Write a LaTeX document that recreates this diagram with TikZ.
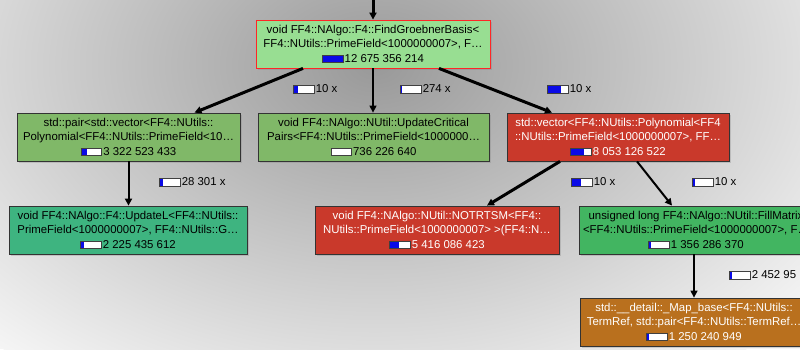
\documentclass[tikz,border=0pt]{standalone}
\usepackage{fontspec}
\setmainfont{Liberation Sans}
\usetikzlibrary{arrows.meta,shadows,calc}
\definecolor{topgreen}{RGB}{152,222,146}
\definecolor{midgreen}{RGB}{128,184,104}
\definecolor{hotred}{RGB}{201,57,43}
\definecolor{tealgreen}{RGB}{62,180,128}
\definecolor{fmgreen}{RGB}{66,181,97}
\definecolor{mapbrown}{RGB}{185,112,30}
\definecolor{barblue}{RGB}{10,10,230}
\newcommand{\pbar}[1]{{\setlength{\fboxsep}{0pt}\setlength{\fboxrule}{0.7pt}\raisebox{0.2pt}{\fcolorbox{black!75}{white}{\textcolor{barblue}{\rule{#1pt}{6.5pt}}\hspace{\dimexpr20pt-#1pt\relax}}}}\hspace{1.2pt}}
\begin{document}
\begin{tikzpicture}[x=1pt,y=-1pt,
  fnode/.style={draw=black!80, line width=0.8pt, minimum height=48pt, inner sep=0pt,
    align=center, font=\fontsize{11.4}{14.5}\selectfont,
    drop shadow={shadow xshift=1.5pt,shadow yshift=-1.5pt,opacity=0.3}},
  elabel/.style={anchor=west, inner sep=0pt, font=\fontsize{11.4}{14.5}\selectfont},
  conn/.style={draw=black, -{Triangle[length=7pt,width=7pt]}},
  ethick/.style={conn, line width=3pt},
  emid/.style={conn, line width=2pt},
  ethin/.style={conn, line width=1.4pt}]
\useasboundingbox (0,0) rectangle (800,349);
\begin{scope}
\clip (0,0) rectangle (800,349);
\fill[white!96!black] (0,0) rectangle (800,349);
\shade[inner color=black!40, outer color=white!96!black] (375,65) ellipse (560 and 380);

\node[fnode, draw=red!85, fill=topgreen, minimum width=234pt] (top) at (373,44)
  {void FF4::NAlgo::F4::FindGroebnerBasis<\\FF4::NUtils::PrimeField<1000000007>, F…\\\pbar{20}12 675 356 214};
\node[fnode, fill=midgreen, minimum width=223pt] (l1) at (128.5,137)
  {std::pair<std::vector<FF4::NUtils::\\Polynomial<FF4::NUtils::PrimeField<10…\\\pbar{5.2}3 322 523 433};
\node[fnode, fill=midgreen, minimum width=231pt] (mid) at (373.5,137)
  {void FF4::NAlgo::NUtil::UpdateCritical\\Pairs<FF4::NUtils::PrimeField<1000000…\\\pbar{1.2}736 226 640};
\node[fnode, fill=hotred, text=white, minimum width=222pt] (rt) at (618,137)
  {std::vector<FF4::NUtils::Polynomial<FF4\\::NUtils::PrimeField<1000000007>, FF…\\\pbar{12.8}8 053 126 522};
\node[fnode, fill=tealgreen, minimum width=238pt] (ul) at (128,230)
  {void FF4::NAlgo::F4::UpdateL<FF4::NUtils::\\PrimeField<1000000007>, FF4::NUtils::G…\\\pbar{3.5}2 225 435 612};
\node[fnode, fill=hotred, text=white, minimum width=244pt] (nt) at (437,230)
  {void FF4::NAlgo::NUtil::NOTRTSM<FF4::\\NUtils::PrimeField<1000000007> >(FF4::N…\\\pbar{8.6}5 416 086 423};
\node[fnode, fill=fmgreen, minimum width=234pt] (fm) at (696,230)
  {unsigned long FF4::NAlgo::NUtil::FillMatrix\\<FF4::NUtils::PrimeField<1000000007>, F…\\\pbar{2.2}1 356 286 370};
\node[fnode, fill=mapbrown, text=white, minimum width=228pt] (mp) at (694,322)
  {std::\_\_detail::\_Map\_base<FF4::NUtils::\\TermRef, std::pair<FF4::NUtils::TermRef…\\\pbar{2}1 250 240 949};

\coordinate (src) at (373,-3);
\draw[ethick] (src) -- (top.north);
\draw[ethick] ($(top.south)+(-70,0)$) -- ($(l1.north)+(66,0)$);
\draw[ethin] (top.south) -- (top.south |- mid.north);
\draw[ethick] ($(top.south)+(66,0)$) -- ($(rt.north)+(-66,0)$);
\draw[emid] (l1.south) -- (l1.south |- ul.north);
\draw[ethick] ($(rt.south)+(-58,0)$) -- ($(nt.north)+(50,0)$);
\draw[emid] ($(rt.south)+(19,0)$) -- ($(fm.north)+(-24,0)$);
\draw[ethin] (mp.north |- fm.south) -- (mp.north);

\node[elabel] (la) at (293,89) {\pbar{4}10 x};
\node[elabel] (lb) at (400,89) {\pbar{1}274 x};
\node[elabel] (lc) at (547,89) {\pbar{13}10 x};
\node[elabel] (ld) at (159,182) {\pbar{3.5}28 301 x};
\node[elabel] (le) at (571,182) {\pbar{8.6}10 x};
\node[elabel] (lf) at (692,182) {\pbar{2.2}10 x};
\node[elabel] (lg) at (729,275) {\pbar{2}2 452 95};
\end{scope}
\end{tikzpicture}
\end{document}
